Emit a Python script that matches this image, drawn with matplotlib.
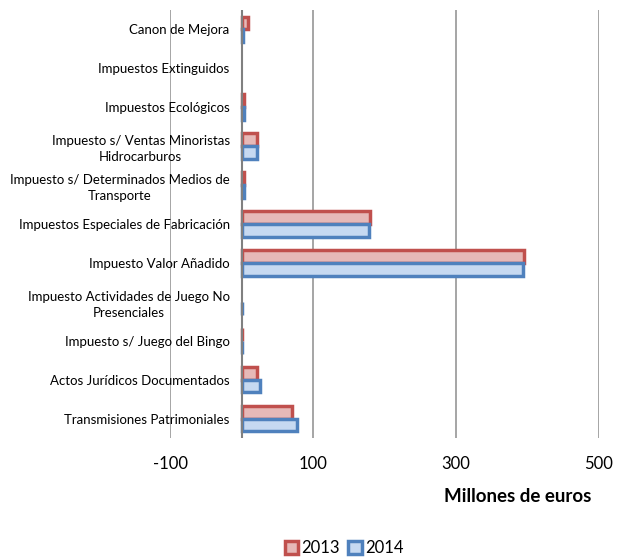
import numpy as np
import matplotlib.pyplot as plt

categories = ["Canon de Mejora",
              "Impuestos Extinguidos",
              "Impuestos Ecológicos",
              "Impuesto s/ Ventas Minoristas\nHidrocarburos",
              "Impuesto s/ Determinados Medios de\nTransporte",
              "Impuestos Especiales de Fabricación",
              "Impuesto Valor Añadido",
              "Impuesto Actividades de Juego No\nPresenciales",
              "Impuesto s/ Juego del Bingo",
              "Actos Jurídicos Documentados",
              "Transmisiones Patrimoniales"]
v2013 = [9, 0, 3, 22, 4, 180, 395, 0, 1, 22, 71]
v2014 = [2, 0, 4, 21, 4, 178, 394, 1, 1, 26, 77]
xticks = [-100, 100, 300, 500]

plt.rcParams['font.family'] = ['Lato', 'DejaVu Sans']

fig = plt.figure(figsize=(6.19, 5.58), dpi=100)
ax = fig.add_axes([170 / 619, 1 - 438 / 558, 429 / 619, 428 / 558])

n = len(categories)
y = np.arange(n)
h = 0.33
# zero values get no outline (nothing visible in the original)
lw13 = [2.5 if v else 0 for v in v2013]
lw14 = [2.5 if v else 0 for v in v2014]
ax.barh(y - h / 2, v2013, height=h, color='#E6B9B8', edgecolor='#C0504D',
        linewidth=lw13, label='2013', zorder=3)
ax.barh(y + h / 2, v2014, height=h, color='#C6D9F1', edgecolor='#4F81BD',
        linewidth=lw14, label='2014', zorder=3)

ax.set_ylim(n - 0.5, -0.5)
ax.set_xlim(-100, 500)
ax.set_xticks(xticks)
ax.set_xticklabels([str(t) for t in xticks], fontsize=12)
ax.set_yticks(y)
ax.set_yticklabels(categories, fontsize=9.5, multialignment='center',
                   linespacing=1.4)
ax.tick_params(axis='y', length=0, pad=-43)
ax.tick_params(axis='x', length=0, pad=13)

ax.grid(axis='x', color='#969696', linewidth=1.2, zorder=0)
for s in ax.spines.values():
    s.set_visible(False)
ax.axvline(0, color='#808080', linewidth=1.5, zorder=4)

fig.text(518 / 619, 1 - 496 / 558, "Millones de euros", fontsize=13.5,
         fontweight='bold', ha='center', va='center')
leg = fig.legend(loc='center', bbox_to_anchor=(344 / 619, 1 - 548 / 558), ncol=2,
                 frameon=False, fontsize=12, handlelength=0.8, handleheight=0.8,
                 handletextpad=0.2, columnspacing=0.5)
for p in leg.get_patches():
    p.set_linewidth(2.5)

fig.savefig("out.png", dpi=100)
